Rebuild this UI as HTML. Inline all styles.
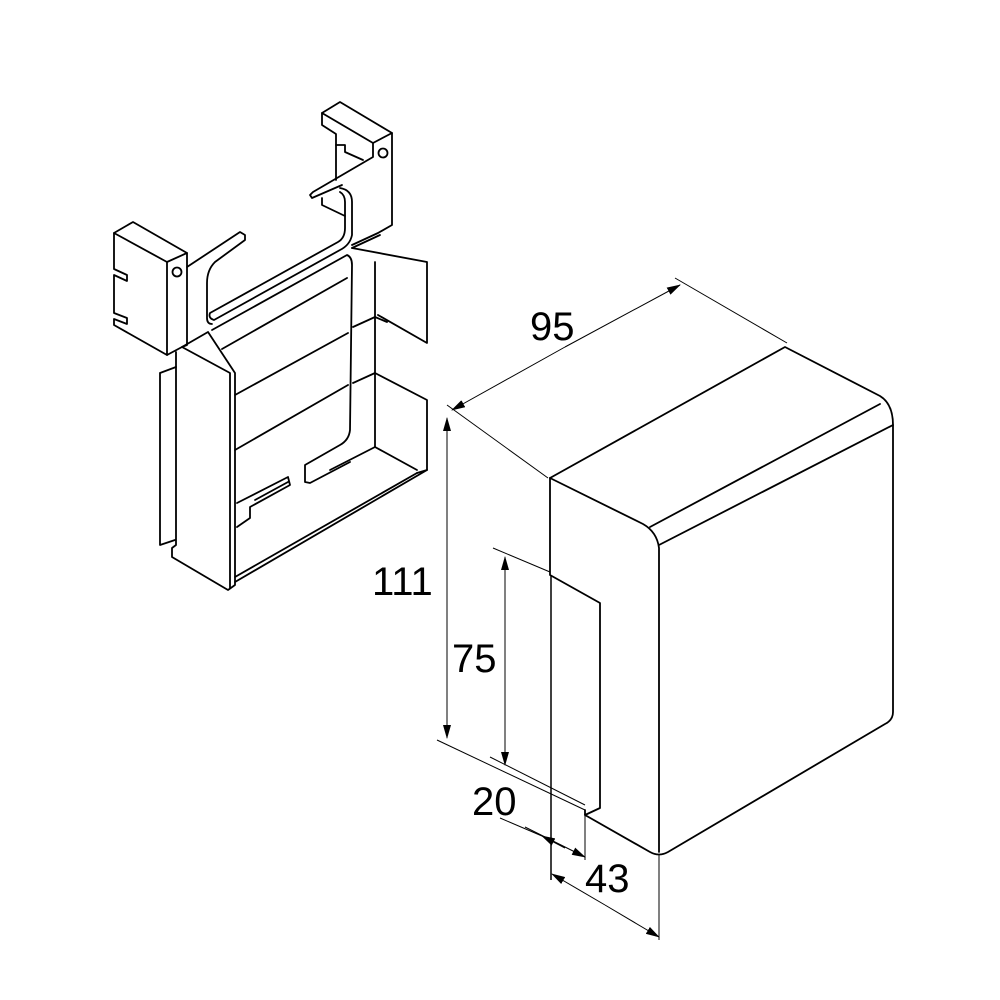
<!DOCTYPE html>
<html><head><meta charset="utf-8"><style>html,body{margin:0;padding:0;background:#fff}svg{display:block}</style></head>
<body>
<svg width="1000" height="1000" viewBox="0 0 1000 1000" xmlns="http://www.w3.org/2000/svg">
<defs>
<marker id="a" markerWidth="14" markerHeight="8" refX="13" refY="4" orient="auto" markerUnits="userSpaceOnUse"><path d="M0,0 L14,4 L0,8 z" fill="#000"/></marker>
</defs>
<g fill="none" stroke="#000" stroke-width="1.8" stroke-linejoin="round" stroke-linecap="round">
<!-- Box -->
<path d="M550,478 L785,347 L880,396 Q893,404 893,425 L893,712 Q893,720 885,724 L668,852 Q659,857 650,852 L585,815 L585,810"/>
<path d="M550,478 L643,524 Q657,532 659,548 L659,852"/>
<path d="M650,527 L880,404"/>
<path d="M659,545 L893,425"/>
<path d="M550,478 L550,575 L600,603 L600,808 L585,815"/>
<!-- Right clip -->
<path d="M322,113 L340,102 L392,133 L373,143 Z"/>
<path d="M322,113 L322,125 L336,134 L336,180"/>
<path d="M336,145 L345,145 L345,152 L363,160"/>
<path d="M373,143 L373,157 L313,192 L310,195 L312,198 L342,185"/>
<path d="M392,133 L392,225 L378,233 L352,245"/>
<circle cx="383" cy="153" r="4.5"/>
<path d="M322,198 L322,205 L345,216"/>
<path d="M340,188 Q352,190 352,202 L352,235 Q350,245 340,250 L214,320 Q208,318 210,313 L338,242 Q345,238 345,228 L345,202 Q345,195 340,192"/>
<!-- Right back wall -->
<path d="M352,248 L427,262 L427,343 L378,315"/>
<path d="M352,248 L380,235"/>
<path d="M375,262 L375,447"/>
<path d="M353,327 L375,317 L387,322"/>
<path d="M353,383 L375,373 L427,400 L427,470 L417,473"/>
<path d="M375,447 L417,470"/>
<!-- Left clip -->
<path d="M114,233 L133,222 L187,253 L167,262 Z"/>
<path d="M114,233 L114,269 L127,275 L127,281 L114,275 L114,313 L127,318 L127,324 L114,319 L114,325 L167,355 L167,262"/>
<path d="M187,253 L187,267 L240,232 L245,235 L245,240 L215,262 Q207,270 207,283 L207,318 Q207,324 212,324"/>
<path d="M187,267 L187,345 L182,347 L167,355"/>
<circle cx="177" cy="272" r="4.5"/>
<!-- Column -->
<path d="M182,347 L208,332 L235,373 L235,585 L228,590 L172,557 L172,548 L176,545 L176,352"/>
<path d="M182,347 L230,373 L230,588"/>
<path d="M160,373 L176,367 M160,373 L160,545 L175,540"/>
<!-- Trays -->
<path d="M212,330 L347,255 Q352,257 352,265 L350,430 Q349,440 340,445 L305,465 L305,482 L310,483 L350,462"/>
<path d="M222,349 L347,278"/>
<path d="M235,395 L348,333"/>
<path d="M235,450 L348,385"/>
<path d="M235,577 L417,473 M235,582 L427,470"/>
<path d="M237,503 L288,477 L290,485 L250,507 L250,518 L237,527"/>
<path d="M255,500 L288,482"/>
<path d="M375,447 L330,470"/>
</g>
<!-- Dimension lines -->
<g fill="none" stroke="#000" stroke-width="1">
<path d="M447,405 L548,478"/>
<path d="M675,278 L787,343"/>
<path d="M565,347 L452,410" marker-end="url(#a)"/>
<path d="M565,347 L680,285" marker-end="url(#a)"/>
<path d="M447,578 L447,418" marker-end="url(#a)"/>
<path d="M447,578 L447,738" marker-end="url(#a)"/>
<path d="M437,740 L585,810"/>
<path d="M493,548 L550,572"/>
<path d="M490,757 L585,805"/>
<path d="M505,660 L505,557" marker-end="url(#a)"/>
<path d="M505,660 L505,765" marker-end="url(#a)"/>
<path d="M500,818 L542,836"/>
<path d="M525,827 L585,857" marker-end="url(#a)"/>
<path d="M565,848 L542,836" marker-end="url(#a)"/>
<path d="M585,815 L585,860"/>
<path d="M551,575 L551,880" stroke-width="1.5"/>
<path d="M659,855 L659,940"/>
<path d="M605,905 L552,874" marker-end="url(#a)"/>
<path d="M605,905 L659,937" marker-end="url(#a)"/>
</g>
<g font-family="Liberation Sans, sans-serif" font-size="40" fill="#000">
<text x="530" y="340">95</text>
<text x="372" y="595">111</text>
<text x="452" y="672">75</text>
<text x="472" y="815">20</text>
<text x="585" y="892">43</text>
</g>
</svg>
</body></html>
